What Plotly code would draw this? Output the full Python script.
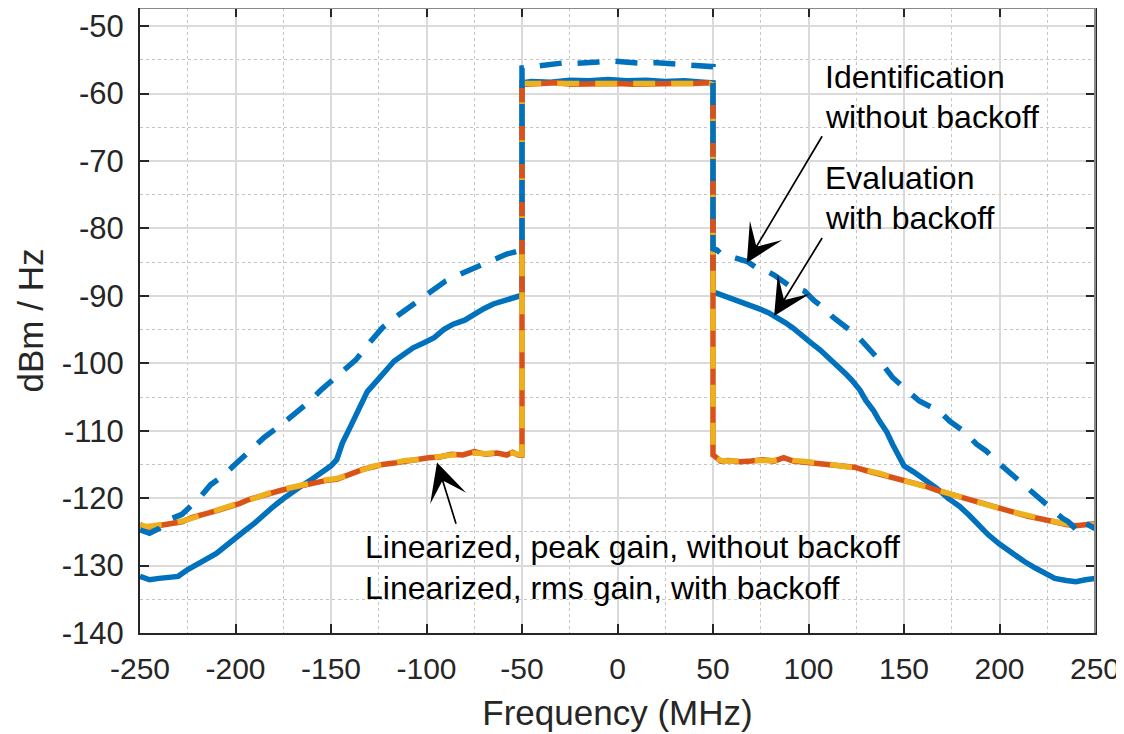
import plotly.graph_objects as go

# ---------------- data ----------------
eval_x = [-250, -245, -240, -235, -230, -225, -220, -215, -210, -205, -200, -195, -190, -185, -180,
          -175, -170, -165, -160, -155, -150, -147, -144, -140, -135, -131, -126, -121, -117, -112,
          -107, -101, -96, -91, -86, -80, -75, -70, -65, -60, -55, -51, -50,
          -50, -45, -35, -25, -15, -5, 5, 15, 25, 35, 45, 50,
          50, 52, 56, 60, 65, 69, 75, 79, 83, 88, 92, 96, 101, 106, 111, 116, 120, 123, 127,
          130, 134, 137, 141, 144, 147, 150, 155, 161, 167, 173, 179, 184, 189, 194, 200,
          207, 213, 219, 224, 229, 235, 240, 245, 250]
eval_y = [-131.6, -132.1, -131.9, -131.8, -131.6, -130.6, -129.9, -129.0, -128.2, -127.0, -125.9, -124.8, -123.7, -122.4, -121.2,
          -120.1, -119.0, -118.1, -117.2, -116.2, -115.2, -114.3, -111.8, -109.5, -106.5, -104.2, -102.6, -101.0, -99.7, -98.7,
          -97.7, -96.9, -96.2, -95.0, -94.2, -93.6, -92.7, -91.9, -91.2, -90.8, -90.2, -90.0, -89.9,
          -58.4, -58.2, -58.3, -58.0, -58.1, -57.9, -58.1, -58.0, -58.2, -58.1, -58.3, -58.4,
          -89.4, -89.6, -90.0, -90.3, -90.8, -91.3, -92.0, -92.5, -93.1, -94.0, -94.8, -95.8, -96.9, -98.0, -99.3, -100.5, -101.7, -102.6, -104.0,
          -105.5, -107.0, -108.5, -110.2, -112.0, -113.8, -115.2, -116.1, -117.2, -118.5, -120.0, -121.2, -122.5, -124.0, -125.4, -126.8,
          -128.3, -129.4, -130.4, -131.2, -131.9, -132.2, -132.4, -132.1, -131.9]

ident_x = [-250, -245, -240, -235, -228, -224, -219, -213, -207, -201, -193, -185, -176, -167, -161, -155,
           -146, -137, -130, -123, -115, -107, -98, -90, -81, -72, -65, -58, -51, -50,
           -50, -47, -40, -33, -27, -21, -15, -10, -4, 2, 8, 13, 19, 25, 32, 38, 45, 50,
           50, 52, 54, 58, 62, 68, 73, 78, 82, 86, 90, 94, 98, 103, 108, 113, 120, 125, 129, 133, 136,
           140, 144, 150, 154, 158, 165, 170, 174, 181, 188, 193, 200, 208, 215, 222, 228, 233, 236, 240, 243,
           247, 250]
ident_y = [-124.7, -125.2, -124.5, -123.2, -122.4, -121.4, -120.0, -118.0, -116.8, -115.2, -113.1, -111.0, -109.1, -107.1, -105.6, -103.9,
           -101.7, -99.5, -97.0, -94.7, -92.9, -91.2, -89.3, -87.8, -86.6, -85.5, -84.6, -83.8, -83.3, -83.2,
           -56.2, -56.1, -55.8, -55.6, -55.4, -55.5, -55.3, -55.3, -55.15, -55.3, -55.3, -55.5, -55.4, -55.5, -55.6, -55.7, -55.9, -56.0,
           -83.0, -83.2, -83.7, -84.0, -84.3, -84.9, -85.9, -86.3, -86.9, -87.8, -88.5, -88.9, -89.3, -90.7, -91.8, -93.2, -94.8, -95.8, -97.0, -98.1, -99.2,
           -100.6, -102.1, -103.6, -104.5, -105.6, -106.6, -107.5, -108.6, -110.0, -112.0, -113.0, -114.9, -116.9, -118.7, -120.4, -121.8, -123.0, -123.5, -124.6, -123.4,
           -124.0, -124.5]

lin_x = [-250, -247, -243, -238, -233, -228, -223, -218, -213, -208, -203, -198, -193, -188, -183, -177, -171,
         -165, -159, -153, -147, -140, -133, -127, -123, -117, -111, -105, -99, -93, -87, -81, -75, -69, -63,
         -58, -55, -52, -50,
         -50, -48, -40, -32, -24, -16, -8, 0, 8, 16, 24, 32, 40, 48, 50,
         50, 51, 54, 58, 64, 70, 76, 82, 87, 92, 100, 107, 114, 119, 124, 130, 137, 143, 149, 155, 161, 167,
         173, 180, 187, 194, 201, 208, 215, 222, 229, 235, 240, 245, 250]
peak_y = [-123.9, -124.3, -124.2, -124.0, -123.8, -123.5, -122.9, -122.4, -122.1, -121.7, -121.3, -120.8, -120.2, -119.8, -119.2, -118.9, -118.5,
          -118.1, -117.6, -117.4, -117.2, -116.4, -115.7, -115.3, -115.0, -114.8, -114.5, -114.2, -114.0, -113.9, -113.5, -113.6, -113.1, -113.5, -113.3,
          -113.6, -113.2, -113.6, -113.6,
          -58.5, -58.6, -58.5, -58.4, -58.6, -58.5, -58.4, -58.5, -58.6, -58.5, -58.4, -58.5, -58.5, -58.4, -58.8,
          -113.6, -113.8, -114.5, -114.4, -114.6, -114.5, -114.3, -114.5, -114.0, -114.5, -114.7, -114.9, -115.0, -115.2, -115.4, -115.9, -116.4, -116.9, -117.4, -117.8, -118.2, -118.8,
          -119.3, -119.9, -120.5, -121.1, -121.7, -122.2, -122.7, -123.1, -123.6, -123.9, -124.1, -123.9, -123.8]
rms_y = [-124.0, -124.2, -124.1, -123.9, -123.7, -123.4, -123.0, -122.5, -122.0, -121.6, -121.2, -120.7, -120.3, -119.7, -119.3, -118.8, -118.4,
         -118.0, -117.7, -117.3, -117.1, -116.5, -115.8, -115.2, -115.1, -114.7, -114.4, -114.3, -114.0, -113.8, -113.6, -113.5, -113.3, -113.4, -113.2,
         -113.4, -113.3, -113.5, -113.5,
         -58.5, -58.5, -58.6, -58.5, -58.5, -58.4, -58.5, -58.6, -58.5, -58.4, -58.5, -58.6, -58.5, -58.5, -58.7,
         -113.7, -113.9, -114.4, -114.5, -114.5, -114.4, -114.4, -114.4, -114.1, -114.4, -114.6, -114.8, -115.1, -115.3, -115.5, -115.8, -116.3, -116.8, -117.3, -117.9, -118.3, -118.7,
         -119.2, -119.8, -120.4, -121.0, -121.6, -122.1, -122.6, -123.2, -123.5, -123.8, -124.0, -124.0, -123.9]

x_ticks = [-250, -200, -150, -100, -50, 0, 50, 100, 150, 200, 250]
y_ticks = [-140, -130, -120, -110, -100, -90, -80, -70, -60, -50]

BLUE = "#0072BD"
ORANGE = "#D95319"
YELLOW = "#EDB120"
AX = "#262626"
FONT = "Liberation Sans, Arial, sans-serif"
LW = 5.5
DASH = "22px,16px"

fig = go.Figure()
fig.add_trace(go.Scatter(x=eval_x, y=eval_y, mode="lines", name="Evaluation with backoff",
                         line=dict(color=BLUE, width=LW)))
fig.add_trace(go.Scatter(x=lin_x, y=peak_y, mode="lines", name="Linearized, peak gain, without backoff",
                         line=dict(color=ORANGE, width=LW)))
fig.add_trace(go.Scatter(x=lin_x, y=rms_y, mode="lines", name="Linearized, rms gain, with backoff",
                         line=dict(color=YELLOW, width=LW, dash=DASH)))
fig.add_trace(go.Scatter(x=ident_x, y=ident_y, mode="lines", name="Identification without backoff",
                         line=dict(color=BLUE, width=LW, dash=DASH)))

# text annotations
texts = [
    ("Identification", 107.6, -57.5),
    ("without backoff", 107.6, -63.4),
    ("Evaluation", 107.6, -72.5),
    ("with backoff", 107.6, -78.5),
    ("Linearized, peak gain, without backoff", -133.3, -127.3),
    ("Linearized, rms gain, with backoff", -133.3, -133.35),
]
for t, x, y in texts:
    fig.add_annotation(text=t, x=x, y=y, xref="x", yref="y", xanchor="left", yanchor="middle",
                       showarrow=False, font=dict(family=FONT, size=32, color="black"))

arrows = [
    # tip x, tip y, tail x, tail y
    (67.7, -85.1, 107.6, -66.1),
    (82.0, -93.0, 107.6, -81.2),
    (-94.5, -114.7, -84.3, -124.0),
]
for tx, ty, sx, sy in arrows:
    fig.add_annotation(x=tx, y=ty, ax=sx, ay=sy, xref="x", yref="y", axref="x", ayref="y",
                       text="", showarrow=True, arrowhead=3, arrowsize=3.7, arrowwidth=1.7,
                       arrowcolor="black")

# lighter top/right box edges
fig.add_shape(type="line", xref="paper", yref="paper", x0=0, x1=1, y0=1, y1=1,
              line=dict(color="#8a8a8a", width=2), layer="above")
fig.add_shape(type="line", xref="paper", yref="paper", x0=1, x1=1, y0=0, y1=1,
              line=dict(color="#8a8a8a", width=2), layer="above")

# page body has an 8px margin: figure occupies (8..1124, 8..734)
fig.update_layout(
    width=1116, height=726,
    margin=dict(l=132, r=29, t=0, b=101, autoexpand=False),
    paper_bgcolor="white", plot_bgcolor="white",
    showlegend=False,
    font=dict(family=FONT, size=31, color=AX),
)
fig.update_xaxes(
    range=[-250, 250], tickvals=x_ticks, ticktext=[str(v) for v in x_ticks],
    showline=True, linecolor=AX, linewidth=2, mirror="allticks", automargin=False,
    ticks="inside", ticklen=9, tickwidth=2, tickcolor=AX,
    showgrid=True, gridcolor="#dadada", gridwidth=1.5, zeroline=False,
    minor=dict(dtick=25, tick0=0, showgrid=True, gridcolor="#c4c4c4", griddash="dot", gridwidth=1.2, ticks=""),
    tickfont=dict(size=30, color=AX, family=FONT),
    title=dict(text="Frequency (MHz)", font=dict(size=35, color=AX, family=FONT), standoff=16),
    ticklabelstandoff=8,
)
fig.update_yaxes(
    range=[-140, -47.3], tickvals=y_ticks, ticktext=[str(v) for v in y_ticks],
    showline=True, linecolor=AX, linewidth=2, mirror="allticks", automargin=False,
    ticks="inside", ticklen=9, tickwidth=2, tickcolor=AX,
    showgrid=True, gridcolor="#dadada", gridwidth=1.5, zeroline=False,
    minor=dict(dtick=5, tick0=0, showgrid=True, gridcolor="#c4c4c4", griddash="dot", gridwidth=1.2, ticks=""),
    tickfont=dict(size=31, color=AX, family=FONT),
    title=dict(text="dBm / Hz", font=dict(size=35, color=AX, family=FONT), standoff=8),
    ticklabelstandoff=8,
)

fig.write_html("out.html")
